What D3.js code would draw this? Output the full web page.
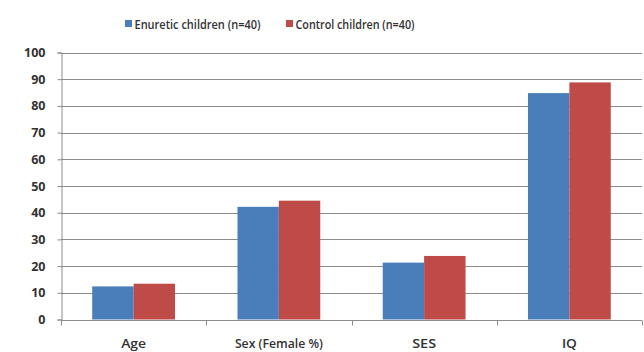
<!DOCTYPE html>
<html>
<head>
<meta charset="utf-8">
<script src="https://cdn.jsdelivr.net/npm/d3@7"></script>
<style>
  html, body { margin: 0; padding: 0; background: #fff; }
  svg { display: block; }
  text { font-family: "Open Sans", "DejaVu Sans", sans-serif; }
</style>
</head>
<body>
<svg id="chart" width="644" height="352"></svg>
<script>
// Group means for enuretic vs. control children
const categories = ["Age", "Sex (Female %)", "SES", "IQ"];
const seriesNames = ["Enuretic children (n=40)", "Control children (n=40)"];
const enureticValues = [12.4, 42.2, 21.3, 84.8];
const controlValues = [13.4, 44.5, 23.8, 88.8];
const yTicks = [0, 10, 20, 30, 40, 50, 60, 70, 80, 90, 100];
const seriesColors = ["#4a7ebb", "#be4b48"];

const rows = categories.map((c, i) => ({
  category: c,
  values: [enureticValues[i], controlValues[i]]
}));

const svg = d3.select("#chart");
const margin = { left: 61, right: 2, top: 52.5, bottom: 32.5 };
const W = 644, H = 352;

const x0 = d3.scaleBand()
  .domain(categories)
  .range([margin.left, W - margin.right])
  .paddingInner(0.43)
  .paddingOuter(0.215);

const x1 = d3.scaleBand()
  .domain(d3.range(seriesNames.length))
  .range([0, x0.bandwidth()]);

const y = d3.scaleLinear()
  .domain([0, 100])
  .range([H - margin.bottom, margin.top]);

// horizontal gridlines
svg.append("g")
  .selectAll("line")
  .data(yTicks.filter(t => t > 0))
  .join("line")
  .attr("x1", margin.left)
  .attr("x2", W - margin.right)
  .attr("y1", d => Math.round(y(d)) + 0.5)
  .attr("y2", d => Math.round(y(d)) + 0.5)
  .attr("stroke", "#8c8c8c")
  .attr("stroke-width", 1);

// bars
svg.append("g")
  .selectAll("g")
  .data(rows)
  .join("g")
  .attr("transform", d => `translate(${x0(d.category)},0)`)
  .selectAll("rect")
  .data(d => d.values.map((v, i) => ({ v, i })))
  .join("rect")
  .attr("x", d => x1(d.i))
  .attr("width", x1.bandwidth())
  .attr("y", d => y(d.v))
  .attr("height", d => y(0) - y(d.v))
  .attr("fill", d => seriesColors[d.i]);

// y axis
const yAxis = svg.append("g")
  .attr("transform", `translate(${margin.left + 0.5},0)`)
  .call(d3.axisLeft(y).tickValues(yTicks).tickSize(4).tickPadding(12).tickFormat(d3.format("d")));
yAxis.select(".domain").attr("stroke", "#8c8c8c");
yAxis.selectAll(".tick line").attr("stroke", "#8c8c8c");
yAxis.selectAll(".tick text")
  .attr("fill", "#333")
  .style("font-size", "12.5px")
  .style("font-weight", "bold")
  .style("font-family", "\"Open Sans\", sans-serif");

// x axis with ticks between categories
const xAxisG = svg.append("g")
  .attr("transform", `translate(0,${Math.round(y(0)) + 0.5})`);
xAxisG.append("line")
  .attr("x1", margin.left)
  .attr("x2", W - margin.right)
  .attr("stroke", "#8c8c8c");
const step = x0.step();
const boundaries = d3.range(categories.length + 1).map(i => margin.left + i * step);
xAxisG.selectAll("line.tick")
  .data(boundaries)
  .join("line")
  .attr("class", "tick")
  .attr("x1", d => Math.round(d) + 0.5)
  .attr("x2", d => Math.round(d) + 0.5)
  .attr("y1", 0)
  .attr("y2", 5)
  .attr("stroke", "#8c8c8c");

// category labels, narrowed to the width of a condensed face
const labelWidths = { "Age": 25, "Sex (Female %)": 88, "SES": 24, "IQ": 15 };
svg.append("g")
  .selectAll("text")
  .data(categories)
  .join("text")
  .attr("x", d => x0(d) + x0.bandwidth() / 2 - labelWidths[d] / 2)
  .attr("y", 348)
  .attr("textLength", d => labelWidths[d])
  .attr("lengthAdjust", "spacingAndGlyphs")
  .attr("fill", "#333")
  .style("font-size", "13px")
  .style("font-weight", "600")
  .text(d => d);

// legend
const legendItems = [
  { name: seriesNames[0], color: seriesColors[0], x: 125, w: 126 },
  { name: seriesNames[1], color: seriesColors[1], x: 286, w: 119 }
];
const lg = svg.append("g");
legendItems.forEach(item => {
  lg.append("rect")
    .attr("x", item.x)
    .attr("y", 20)
    .attr("width", 7)
    .attr("height", 7)
    .attr("fill", item.color);
  lg.append("text")
    .attr("x", item.x + 9.5)
    .attr("y", 28.5)
    .attr("textLength", item.w)
    .attr("lengthAdjust", "spacingAndGlyphs")
    .attr("fill", "#333")
    .style("font-size", "13px")
    .style("font-weight", "600")
    .text(item.name);
});
</script>
</body>
</html>
